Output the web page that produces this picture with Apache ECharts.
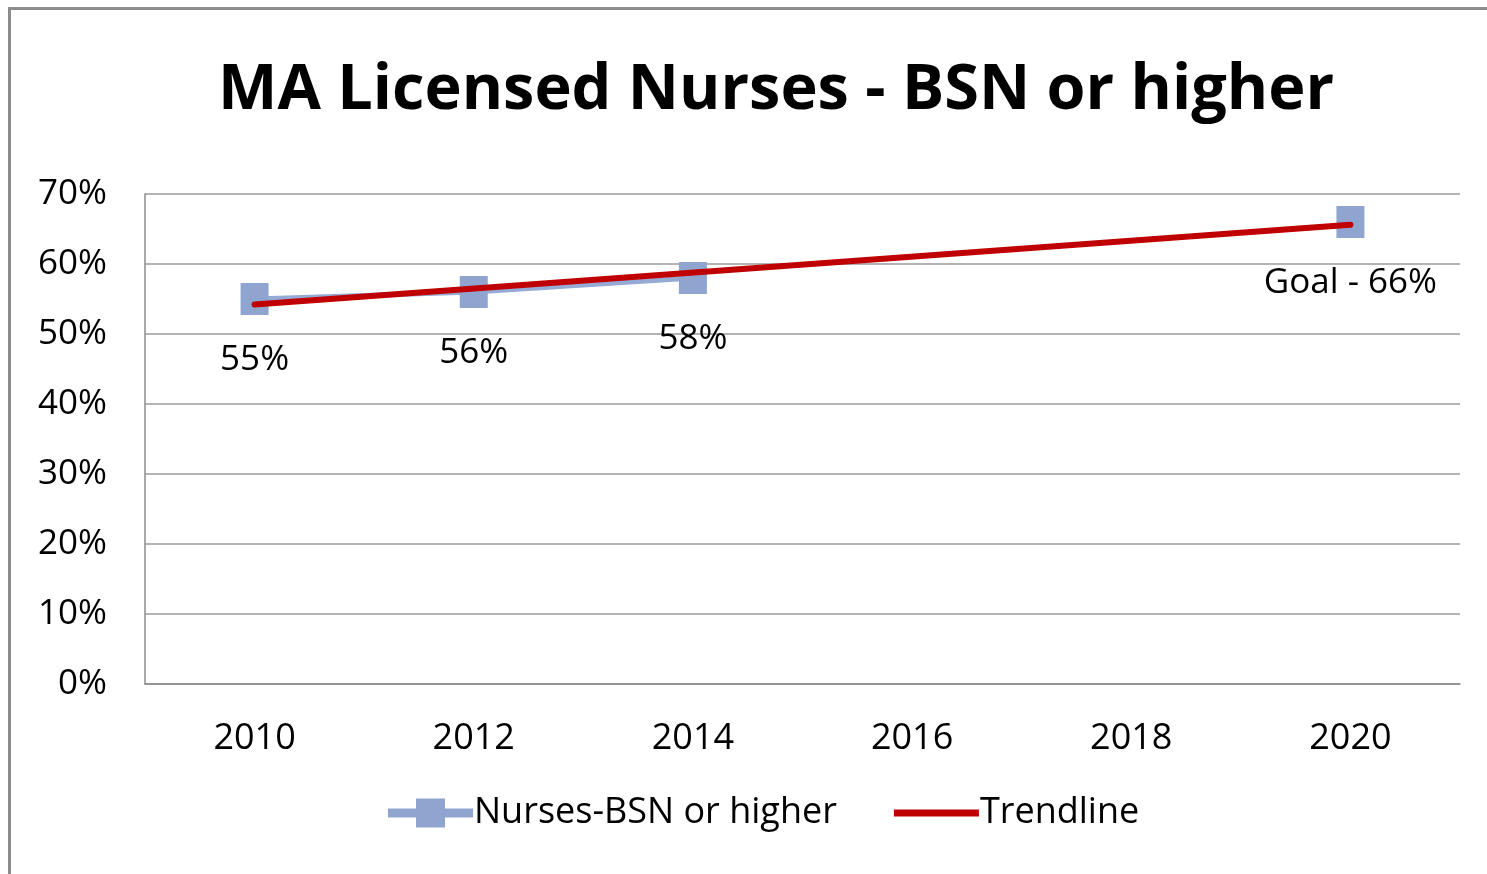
<!DOCTYPE html>
<html>
<head>
<meta charset="utf-8">
<script src="https://cdn.jsdelivr.net/npm/echarts@6/dist/echarts.min.js"></script>
<style>
  html, body { margin: 0; padding: 0; background: #fff; }
  #chart { width: 1487px; height: 874px; }
  #frame {
    position: absolute; left: 8px; top: 7px; width: 1490px; height: 880px;
    border-left: 3px solid #8c8c8c; border-top: 3px solid #8c8c8c;
    pointer-events: none;
  }
</style>
</head>
<body>
<div id="chart"></div>
<div id="frame"></div>
<script>
// años del eje X
const years = ['2010', '2012', '2014', '2016', '2018', '2020'];
// porcentaje de enfermeras con BSN o superior (2020 = meta)
const bsnValues = [55, 56, 58, null, null, 66];
const bsnLabels = ['55%', '56%', '58%', '', '', 'Goal - 66%'];
// línea de tendencia, extremos
const trendValues = [54.2, null, null, null, null, 65.6];

const font = 'Open Sans';
const chart = echarts.init(document.getElementById('chart'));

// iconos de leyenda: línea gruesa con cuadrado / línea sola
const bsnIcon = 'path://M0,10 L28,10 L28,0 L57,0 L57,10 L85,10 L85,19 L57,19 L57,29 L28,29 L28,19 L0,19 Z';
const trendIcon = 'path://M0,0 L85,0 L85,7 L0,7 Z';

const option = {
  backgroundColor: '#fff',
  title: {
    text: 'MA Licensed Nurses - BSN or higher',
    left: 771,
    top: 55,
    textAlign: 'center',
    textStyle: { fontFamily: font, fontWeight: 'bold', fontSize: 63, color: '#000' }
  },
  grid: { left: 145, right: 27, top: 194, bottom: 190 },
  legend: {
    bottom: 38,
    left: 383,
    itemWidth: 85,
    itemHeight: 29,
    itemGap: 57,
    textStyle: { fontFamily: font, fontSize: 36, color: '#000', padding: [0, 0, 0, -4] },
    data: [
      { name: 'Nurses-BSN or higher', icon: bsnIcon, itemStyle: { color: '#8fa5d0' } },
      { name: 'Trendline', icon: trendIcon, itemStyle: { color: '#c00000' } }
    ]
  },
  xAxis: {
    type: 'category',
    data: years,
    boundaryGap: true,
    axisLine: { lineStyle: { color: '#8c8c8c', width: 1.5 } },
    axisTick: { show: false },
    axisLabel: { color: '#000', fontFamily: font, fontSize: 36, margin: 37 }
  },
  yAxis: {
    type: 'value',
    min: 0,
    max: 70,
    interval: 10,
    axisLine: { show: true, lineStyle: { color: '#8c8c8c', width: 1.5 } },
    axisTick: { show: false },
    splitLine: { lineStyle: { color: '#9a9a9a', width: 1.5 } },
    axisLabel: { color: '#000', fontFamily: font, fontSize: 35, margin: 38, formatter: '{value}%' }
  },
  series: [
    {
      name: 'Nurses-BSN or higher',
      type: 'line',
      data: bsnValues,
      connectNulls: false,
      symbol: 'rect',
      symbolSize: [28, 32],
      itemStyle: { color: '#8fa5d0' },
      lineStyle: { color: '#95aad5', width: 5 },
      label: {
        show: true,
        position: 'bottom',
        distance: 28,
        fontFamily: font,
        fontSize: 35,
        color: '#000',
        formatter: p => bsnLabels[p.dataIndex]
      },
      z: 2
    },
    {
      name: 'Trendline',
      type: 'line',
      data: trendValues,
      connectNulls: true,
      symbol: 'none',
      lineStyle: { color: '#c00000', width: 6, cap: 'round' },
      itemStyle: { color: '#c00000' },
      z: 3
    }
  ]
};

chart.setOption(option);
</script>
</body>
</html>
